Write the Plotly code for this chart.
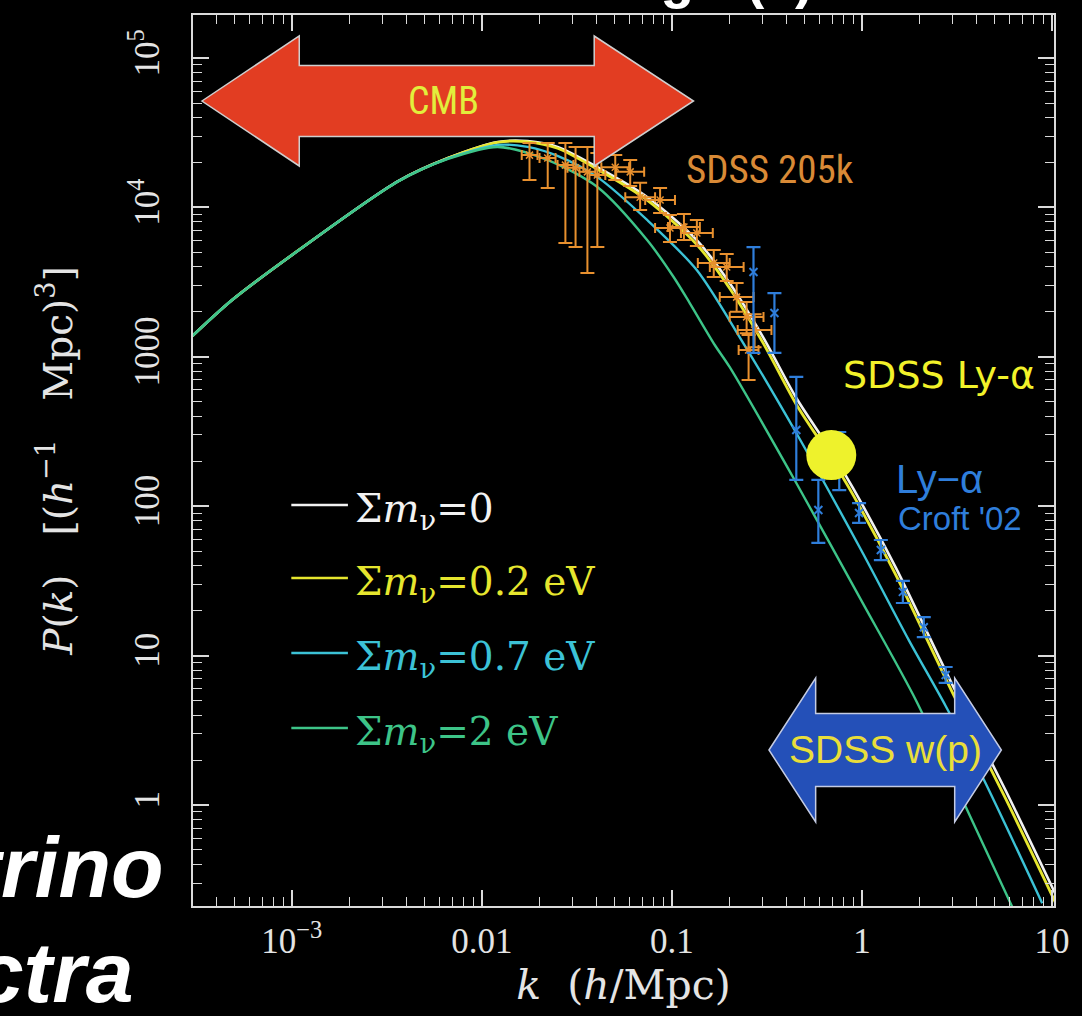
import plotly.graph_objects as go

# ---------------- data ----------------
# model power spectra (k in h/Mpc, P in (Mpc/h)^3)
k_nu0 = [0.0003, 0.000485, 0.00109, 0.00363, 0.00664, 0.0121, 0.0174, 0.0250, 0.0405, 0.0740,
         0.135, 0.201, 0.303, 0.451, 0.671, 0.897, 1.51, 2.99, 5.68, 10.6]
P_nu0 = [1380, 2400, 5190, 15000, 21400, 27400, 27800, 25400, 18600, 11750,
         6050, 3120, 1340, 530, 245, 132, 38.5, 6.36, 1.26, 0.242]
k_nu02 = [0.0003, 0.000485, 0.00109, 0.00363, 0.00664, 0.0121, 0.0174, 0.0250, 0.0405, 0.0740,
          0.135, 0.201, 0.303, 0.451, 0.671, 0.897, 1.51, 2.99, 5.68, 10.6]
P_nu02 = [1380, 2400, 5190, 15000, 21400, 27300, 27500, 24900, 18000, 11200,
          5650, 2880, 1225, 480, 221, 119, 34.5, 5.65, 1.11, 0.212]

k_nu07 = [0.0003, 0.000485, 0.00109, 0.00363, 0.00664, 0.0121, 0.0174, 0.0250, 0.0405, 0.0740,
          0.135, 0.232, 0.451, 0.989, 1.762, 2.754, 4.305, 8.87]
P_nu07 = [1380, 2400, 5190, 15000, 21300, 26200, 25400, 22100, 15950, 8240,
          3810, 1295, 309, 50.9, 12.7, 4.60, 1.54, 0.220]

k_nu2 = [0.0003, 0.000485, 0.00109, 0.00363, 0.00664, 0.0121, 0.0222, 0.0405, 0.0740, 0.102,
         0.124, 0.168, 0.201, 0.451, 0.989, 1.918, 3.38, 6.18]
P_nu2 = [1380, 2400, 5190, 14900, 21100, 25400, 20750, 13700, 6050, 3420,
         2290, 1200, 855, 143, 23.5, 5.05, 1.08, 0.207]

# SDSS 205k galaxy power spectrum
k_sdss = [0.0178, 0.0222, 0.0275, 0.0311, 0.0359, 0.0405, 0.0503, 0.0603, 0.0680, 0.0866,
          0.0976, 0.1156, 0.1352, 0.1659, 0.1941, 0.2189, 0.2470, 0.2720, 0.2530]
k_sdss_lo = [0.0162, 0.0201, 0.0250, 0.0282, 0.0326, 0.0368, 0.0425, 0.0509, 0.0568, 0.0723,
             0.0815, 0.0953, 0.1115, 0.1368, 0.1582, 0.1784, 0.2013, 0.2217, 0.2243]
k_sdss_hi = [0.0196, 0.0244, 0.0303, 0.0342, 0.0395, 0.0446, 0.0595, 0.0714, 0.0815, 0.1037,
             0.1169, 0.1402, 0.1640, 0.2012, 0.2382, 0.2686, 0.3031, 0.3337, 0.2854]
P_sdss = [22400, 21400, 19200, 18400, 17300, 16500, 18600, 17300, 11700, 11200,
          7280, 7390, 6740, 4240, 3990, 2510, 1850, 1510, 1110]
P_sdss_hi = [27000, 27000, 27000, 25400, 25400, 23100, 22400, 20800, 14600, 13500,
             8900, 9030, 8240, 5190, 4880, 3120, 2330, 1930, 1400]
P_sdss_lo = [15250, 13500, 5780, 5430, 3640, 5430, 15250, 13900, 9610, 9180,
             5870, 6050, 5520, 3420, 3220, 2000, 1440, 1160, 700]

# Lyman-alpha forest, Croft '02
k_croft = [0.2685, 0.346, 0.451, 0.589, 0.759, 0.965, 1.256, 1.640, 2.113, 2.754]
P_croft = [3700, 1963, 324, 94.4, 204, 90.1, 50.9, 26.7, 15.5, 7.41]
P_croft_hi = [5430, 2673, 733, 150, 314, 105, 59.4, 31.6, 18.1, 8.39]
P_croft_lo = [1062, 1062, 150, 56.8, 128, 77.3, 43.6, 22.5, 13.3, 6.56]

# SDSS Ly-alpha point
k_lya = [0.689]
P_lya = [220]

x_tickvals = [1e-3, 1e-2, 0.1, 1, 10]
x_ticktext = ["10<sup>−3</sup>", "0.01", "0.1", "1", "10"]
y_tickvals = [1, 10, 100, 1000, 1e4, 1e5]
y_ticktext = ["1", "10", "100", "1000", "10<sup>4</sup>", "10<sup>5</sup>"]

legend_labels = ["Σ<i>m</i><sub>ν</sub>=0", "Σ<i>m</i><sub>ν</sub>=0.2 eV",
                 "Σ<i>m</i><sub>ν</sub>=0.7 eV", "Σ<i>m</i><sub>ν</sub>=2 eV"]

# ---------------- figure ----------------
W, H = 1082, 1016
L, R, T, B = 193, 22, 15, 110
PW, PH = W - L - R, H - T - B


def px(x):
    return (x - L) / PW


def py(y):
    return (H - B - y) / PH


FRAME = "#DADADA"
SERIF = "Liberation Serif, Times New Roman, serif"
WSERIF = "DejaVu Serif, serif"
TXT = "#E4E4E4"

fig = go.Figure()

curves = [
    (k_nu0, P_nu0, "#F2F2F2", 2.6),
    (k_nu02, P_nu02, "#E6E62E", 2.8),
    (k_nu07, P_nu07, "#3CC2D6", 2.4),
    (k_nu2, P_nu2, "#3DC488", 2.4),
]
for (kk, pp, col, lw), name in zip(curves, legend_labels):
    fig.add_trace(go.Scatter(
        x=kk, y=pp, mode="lines",
        line=dict(color=col, width=lw, shape="spline", smoothing=0.8),
        name=name, showlegend=False,
    ))

ORANGE = "#E8902E"
fig.add_trace(go.Scatter(
    x=k_sdss, y=P_sdss, mode="markers",
    marker=dict(symbol="x-thin", size=7, line=dict(color=ORANGE, width=1.5), color=ORANGE),
    error_y=dict(type="data", symmetric=False,
                 array=[h - p for h, p in zip(P_sdss_hi, P_sdss)],
                 arrayminus=[p - l for l, p in zip(P_sdss_lo, P_sdss)],
                 color=ORANGE, thickness=2, width=7),
    error_x=dict(type="data", symmetric=False,
                 array=[h - k for h, k in zip(k_sdss_hi, k_sdss)],
                 arrayminus=[k - l for l, k in zip(k_sdss_lo, k_sdss)],
                 color=ORANGE, thickness=2, width=5),
    showlegend=False, name="SDSS 205k",
))

BLUE = "#2F7EDB"
fig.add_trace(go.Scatter(
    x=k_croft, y=P_croft, mode="markers",
    marker=dict(symbol="x-thin", size=8, line=dict(color=BLUE, width=2), color=BLUE),
    error_y=dict(type="data", symmetric=False,
                 array=[h - p for h, p in zip(P_croft_hi, P_croft)],
                 arrayminus=[p - l for l, p in zip(P_croft_lo, P_croft)],
                 color=BLUE, thickness=2.2, width=7),
    showlegend=False, name="Ly-α Croft '02",
))

fig.add_trace(go.Scatter(
    x=k_lya, y=P_lya, mode="markers",
    marker=dict(size=50, color="#EEF22C", line=dict(width=0)),
    showlegend=False, name="SDSS Ly-α",
))


# ---------------- arrows (decorations) ----------------
def double_arrow(x_tip0, x_head0, x_head1, x_tip1, yc, body_half, head_half):
    pts = [
        (x_tip0, yc), (x_head0, yc - head_half), (x_head0, yc - body_half),
        (x_head1, yc - body_half), (x_head1, yc - head_half), (x_tip1, yc),
        (x_head1, yc + head_half), (x_head1, yc + body_half),
        (x_head0, yc + body_half), (x_head0, yc + head_half),
    ]
    return "M " + " L ".join(f"{px(a):.5f},{py(b):.5f}" for a, b in pts) + " Z"


shapes = [
    dict(type="path", xref="paper", yref="paper",
         path=double_arrow(202, 300, 597, 697, 101, 35.5, 65),
         fillcolor="#E23D22", line=dict(color="#CFCFCF", width=1.5), layer="above"),
    dict(type="path", xref="paper", yref="paper",
         path=double_arrow(773, 820, 960, 1007, 750, 36.5, 72),
         fillcolor="#2450B8", line=dict(color="#C4CCE4", width=1.5), layer="above"),
]

NARROW = "Liberation Sans Narrow, Roboto Condensed, Liberation Sans, sans-serif"
annotations = [
    dict(text="CMB", x=px(445), y=py(101), xanchor="center", yanchor="middle",
         font=dict(family=NARROW, size=38, color="#E2EE3C")),
    dict(text="SDSS w(p)", x=px(890), y=py(749), xanchor="center", yanchor="middle",
         font=dict(family="Liberation Sans, sans-serif", size=39, color="#E9DE3A")),
    dict(text="SDSS 205k", x=px(774), y=py(170), xanchor="center", yanchor="middle",
         font=dict(family=NARROW, size=39, color="#D98A36")),
    dict(text="SDSS Ly-α", x=px(1043), y=py(375), xanchor="right", yanchor="middle",
         font=dict(family="DejaVu Sans, sans-serif", size=38, color="#F2F22A")),
    dict(text="Ly−α", x=px(899), y=py(479), xanchor="left", yanchor="middle",
         font=dict(family="Liberation Sans, sans-serif", size=40, color=BLUE)),
    dict(text="Croft '02", x=px(901), y=py(518), xanchor="left", yanchor="middle",
         font=dict(family="Liberation Sans, sans-serif", size=33, color=BLUE)),
    # slide text partly outside the figure
    dict(text="<b>Measuring P(k)</b>", x=px(818), y=py(10), xanchor="right", yanchor="bottom",
         borderpad=0, font=dict(family="Liberation Sans, Arial, sans-serif", size=55, color="white")),
    dict(text="<b><i>Neutrino</i></b>", x=px(165), y=py(916), xanchor="right", yanchor="bottom",
         borderpad=0, font=dict(family="Liberation Sans, Arial, sans-serif", size=86, color="white")),
    dict(text="<b><i>Spectra</i></b>", x=px(135), y=py(1021), xanchor="right", yanchor="bottom",
         borderpad=0, font=dict(family="Liberation Sans, Arial, sans-serif", size=86, color="white")),
]

# in-plot legend: line samples and coloured labels
legend_y = [505, 578, 653, 728]
for (kk, pp, col, lw), label, ly in zip(curves, legend_labels, legend_y):
    shapes.append(dict(type="line", xref="paper", yref="paper",
                       x0=px(292), x1=px(349), y0=py(ly), y1=py(ly),
                       line=dict(color=col, width=2.4), layer="above"))
    annotations.append(dict(text=label, x=px(354), y=py(ly + 6), xanchor="left", yanchor="middle",
                            font=dict(family=WSERIF, size=39, color=col)))

for a in annotations:
    a.update(xref="paper", yref="paper", showarrow=False)

x_minor = [m * 10.0 ** e for e in range(-4, 2) for m in range(2, 10)]
y_minor = [m * 10.0 ** e for e in range(-1, 6) for m in range(2, 10)]

axis_common = dict(
    type="log", showline=True, linecolor=FRAME, linewidth=2, mirror="allticks",
    ticks="inside", ticklen=16, tickwidth=1.6, tickcolor=FRAME,
    showgrid=False, zeroline=False,
    tickfont=dict(family=SERIF, size=35, color=TXT),
)

fig.update_layout(
    width=W, height=H, autosize=False,
    margin=dict(l=L, r=R, t=T, b=B, pad=0),
    paper_bgcolor="black", plot_bgcolor="black",
    xaxis=dict(
        **axis_common, range=[-3.52, 1.01],
        tickmode="array", tickvals=x_tickvals, ticktext=x_ticktext,
        ticklabelstandoff=3,
        minor=dict(ticks="inside", ticklen=9, tickwidth=1.4, tickcolor=FRAME,
                   tickmode="array", tickvals=x_minor, showgrid=False),
        title=dict(text="<i>k</i>  (<i>h</i>/Mpc)", standoff=4,
                   font=dict(family=WSERIF, size=41, color=TXT)),
    ),
    yaxis=dict(
        **axis_common, range=[-0.676, 5.288],
        tickmode="array", tickvals=y_tickvals, ticktext=y_ticktext, tickangle=-90,
        ticklabelstandoff=18,
        minor=dict(ticks="inside", ticklen=9, tickwidth=1.4, tickcolor=FRAME,
                   tickmode="array", tickvals=y_minor, showgrid=False),
        title=dict(text="<i>P</i>(<i>k</i>)\u2003[(<i>h</i><sup>−1</sup>\u2003Mpc)<sup>3</sup>]",
                   standoff=38, font=dict(family=WSERIF, size=39, color=TXT)),
    ),
    shapes=shapes,
    annotations=annotations,
    showlegend=False,
)

fig.write_html("out.html", config={"displayModeBar": False},
               post_script="document.body.style.margin='0px';")
